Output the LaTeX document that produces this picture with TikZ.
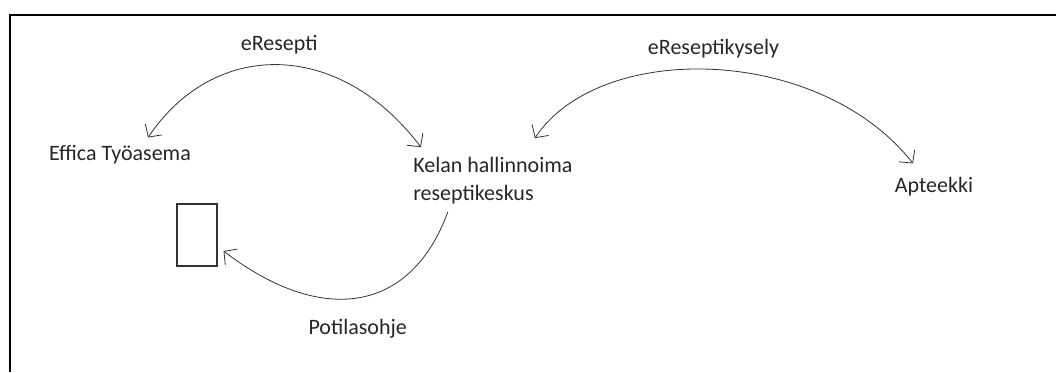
\documentclass[tikz,border=0pt]{standalone}
\usepackage{fontspec}
\setmainfont{Carlito}
\usetikzlibrary{arrows.meta,calc}
\begin{document}
\begin{tikzpicture}[x=0.75pt,y=-0.75pt,
        lbl/.style={inner sep=0pt, font=\fontsize{16.5}{20.5}\selectfont, text=black!85},
        link/.style={draw=black!80, line width=0.6pt},
        barb/.style={-{Straight Barb[length=7pt,width=15pt]}},
        barbs/.style={{Straight Barb[length=7pt,width=15pt]}-{Straight Barb[length=7pt,width=15pt]}}]
    \useasboundingbox (0,0) rectangle (1056,372);
    % frame
    \draw[line width=1.5pt] (10,372) -- (10,15) -- (1056,15);
    % places
    \node[lbl, anchor=base] (effica) at (120,160) {Effica Työasema};
    \node[lbl, anchor=base west, align=left] (kela) at (413,200) {Kelan hallinnoima\\reseptikeskus};
    \node[lbl, anchor=base] (apteekki) at (934,192) {Apteekki};
    \node[draw=black!80, line width=0.8pt, minimum width=30pt, minimum height=46.5pt, inner sep=0pt] (ohje) at (197,235) {};
    % messages
    \draw[link, barbs] ($(effica.north)+(28,-7)$) .. controls (215,38) and (340,40) .. ($(kela.north)+(-72,-10)$)
        node[lbl, pos=0.5, above=8pt] (eres) {eResepti};
    \draw[link, barbs] ($(kela.north)+(42,-19)$) .. controls (600,40) and (820,45) .. ($(apteekki.north)+(-21,-13)$)
        node[lbl, pos=0.5, above=8pt] (kysely) {eReseptikysely};
    \draw[link, barb] ($(kela.south)+(-45,8)$) .. controls (410,315) and (320,325) .. ($(ohje.east)+(6,16)$)
        node[lbl, pos=0.5, below=16pt] (potilas) {Potilasohje};
\end{tikzpicture}
\end{document}
